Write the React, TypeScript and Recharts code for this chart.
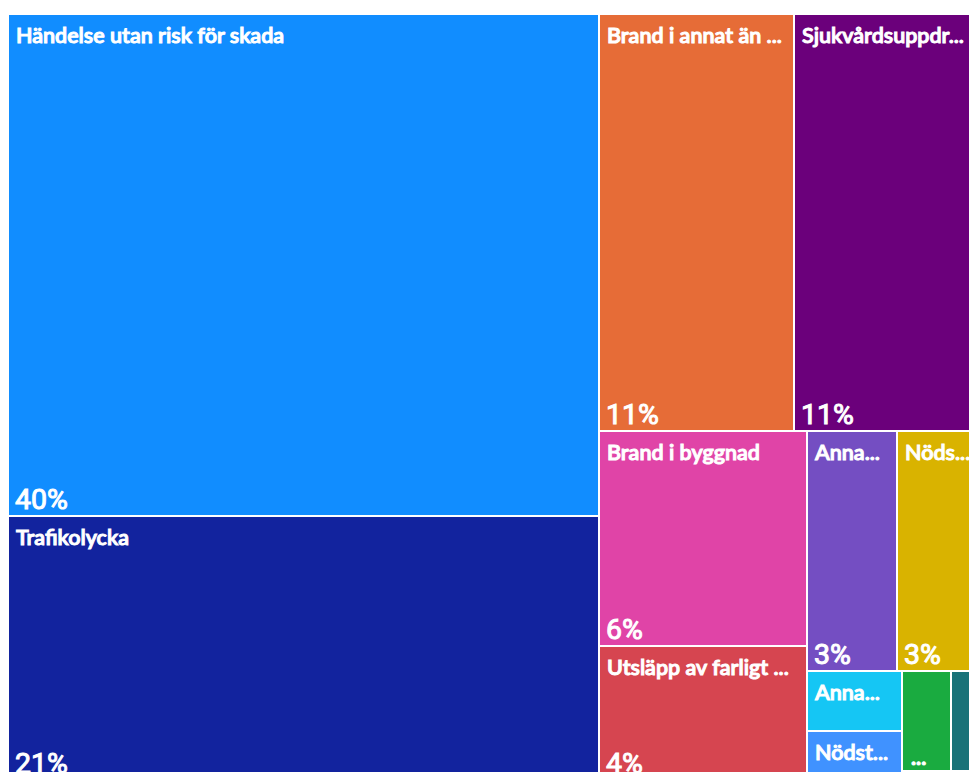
import { Treemap } from 'recharts';

const CATEGORIES = [
  'Händelse utan risk för skada',
  'Trafikolycka',
  'Brand i annat än byggnad',
  'Sjukvårdsuppdrag (IVPA)',
  'Brand i byggnad',
  'Utsläpp av farligt ämne',
  'Annan olycka/tillbud',
  'Nödställd person',
  'Annat uppdrag',
  'Nödställt djur',
  'Drunkning',
  'Stormskada',
  'Ras/skred',
];

// what the tiles show (power bi cuts long names to fit)
const TILE_LABELS = [
  'Händelse utan risk för skada',
  'Trafikolycka',
  'Brand i annat än ...',
  'Sjukvårdsuppdr...',
  'Brand i byggnad',
  'Utsläpp av farligt ...',
  'Anna...',
  'Nöds...',
  'Anna...',
  'Nödst...',
  '',
  '',
  '',
];

const COUNTS = [2970, 1557, 813, 792, 447, 279, 216, 209, 57, 47, 49, 33, 8];

const COLORS = [
  '#118DFF', '#12239E', '#E66C37', '#6B007B', '#E044A7', '#D64550', '#744EC2',
  '#D9B300', '#15C6F4', '#4092FF', '#1AAB40', '#197278', '#FFA058',
];

const TOTAL = COUNTS.reduce((a, b) => a + b, 0);
const data = CATEGORIES.map((name, i) => ({ name, value: COUNTS[i] }));

const NAME_FAMILY = 'Lato, "Open Sans", sans-serif';
const NAME_SIZE = 21.5;
const PCT_FAMILY = 'Roboto, sans-serif';
const PCT_SIZE = 28.5;

let ctx: CanvasRenderingContext2D | null = null;
const measure = (s: string, font: string) => {
  if (!ctx) ctx = document.createElement('canvas').getContext('2d');
  ctx!.font = font;
  return ctx!.measureText(s).width;
};

const Tile = (props: any) => {
  const { x, y, width, height, depth, index, value } = props;
  if (depth !== 1) return null;

  const pctFont = `400 ${PCT_SIZE}px ${PCT_FAMILY}`;
  const label = height >= 40 ? TILE_LABELS[index] : '';

  let pct: string | null = null;
  let dots = false;
  if (height >= 80) {
    const p = `${Math.round((value / TOTAL) * 100)}%`;
    if (measure(p, pctFont) + 14 <= width) pct = p;
    else if (width >= 40) dots = true;
  }

  return (
    <g>
      <rect x={x} y={y} width={width} height={height} fill={COLORS[index]} stroke="#fff" strokeWidth={2} />
      {label && (
        <text x={x + 8} y={y + 28.5} fill="#fff" fontFamily={NAME_FAMILY} fontWeight={600} fontSize={NAME_SIZE}>
          {label}
        </text>
      )}
      {pct && (
        <text x={x + 7} y={y + height - 7} fill="#fff" fontFamily={PCT_FAMILY} fontWeight={400} fontSize={PCT_SIZE}>
          {pct}
        </text>
      )}
      {dots && (
        <text x={x + 9} y={y + height - 6} fill="#fff" fontFamily={NAME_FAMILY} fontWeight={700} fontSize={NAME_SIZE}>
          ...
        </text>
      )}
    </g>
  );
};

export default function App() {
  return (
    <div style={{ position: 'fixed', left: 0, top: 0, width: 969, height: 772, overflow: 'hidden', background: '#fff' }}>
      <div style={{ position: 'absolute', left: 8, top: 14 }}>
        <Treemap
          width={976}
          height={766}
          data={data}
          dataKey="value"
          nameKey="name"
          aspectRatio={0.5 * (1 + Math.sqrt(5))}
          stroke="#fff"
          content={Tile}
          isAnimationActive={false}
        />
      </div>
    </div>
  );
}
